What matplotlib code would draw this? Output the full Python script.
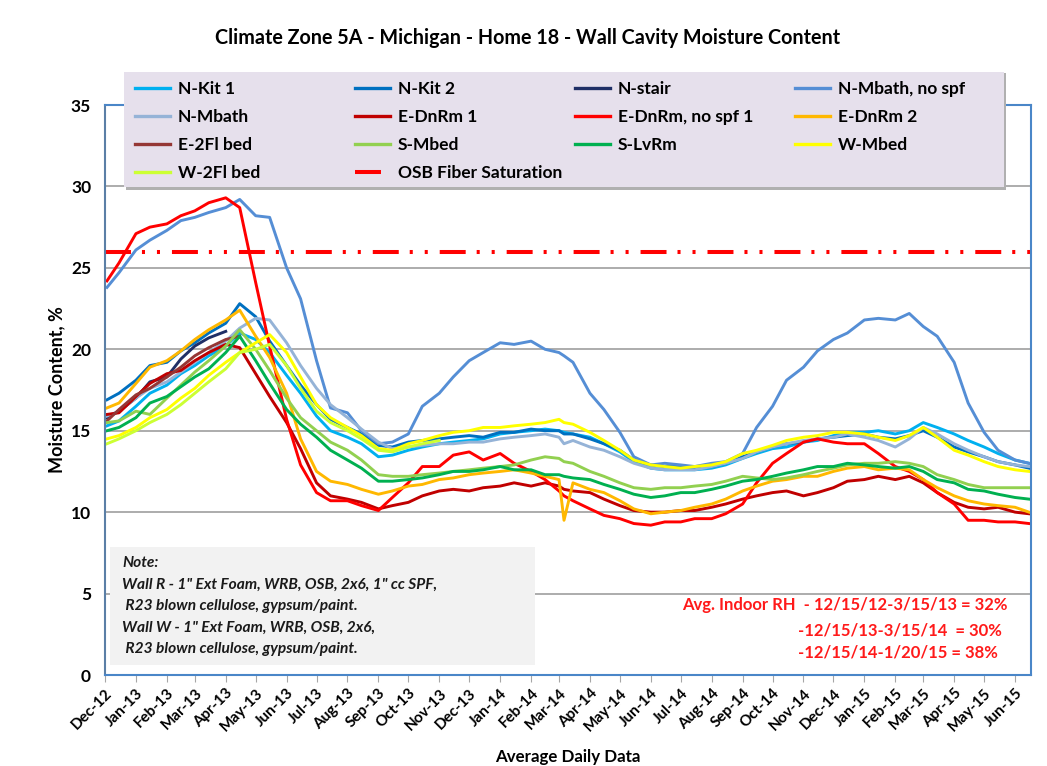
import numpy as np
import pandas as pd
import matplotlib
matplotlib.use("Agg")
import matplotlib.pyplot as plt
import matplotlib.dates as mdates
from matplotlib.patches import Rectangle
from matplotlib.lines import Line2D

plt.rcParams['font.family'] = ['Lato', 'DejaVu Sans']
plt.rcParams['font.weight'] = 'bold'
plt.rcParams['lines.scale_dashes'] = False

# DATA ###############################################################
DATES = pd.to_datetime([
    "2012-12-03", "2012-12-15",
    "2013-01-01", "2013-01-15", "2013-02-01", "2013-02-15", "2013-03-01", "2013-03-15",
    "2013-04-01", "2013-04-15", "2013-05-01", "2013-05-15", "2013-06-01", "2013-06-15",
    "2013-07-01", "2013-07-15", "2013-08-01", "2013-08-15", "2013-09-01", "2013-09-15",
    "2013-10-01", "2013-10-15", "2013-11-01", "2013-11-15", "2013-12-01", "2013-12-15",
    "2014-01-01", "2014-01-15", "2014-02-01", "2014-02-15", "2014-03-01", "2014-03-06",
    "2014-03-15", "2014-04-01", "2014-04-15", "2014-05-01", "2014-05-15", "2014-06-01",
    "2014-06-15", "2014-07-01", "2014-07-15", "2014-08-01", "2014-08-15", "2014-09-01",
    "2014-09-15", "2014-10-01", "2014-10-15", "2014-11-01", "2014-11-15", "2014-12-01",
    "2014-12-15", "2015-01-01", "2015-01-15", "2015-02-01", "2015-02-15", "2015-03-01",
    "2015-03-15", "2015-04-01", "2015-04-15", "2015-05-01", "2015-05-15", "2015-06-01",
    "2015-06-15"])

N_KIT_1 = [15.3, 15.6, 16.5, 17.3, 17.8, 18.5, 19.0, 19.6, 20.2, 21.0, 20.6, 19.8,
           18.4, 17.3, 15.9, 15.0, 14.6, 14.2, 13.4, 13.5, 13.8, 14.0, 14.2, 14.3,
           14.4, 14.5, 14.8, 14.9, 15.0, 15.1, 15.0, 14.9, 14.8, 14.6, 14.2, 13.7, 13.1,
           12.7, 12.6, 12.6, 12.6, 12.7, 12.9, 13.3, 13.6, 13.9, 14.0, 14.3, 14.4,
           14.7, 14.9, 14.9, 15.0, 14.8, 15.0, 15.5, 15.2, 14.8, 14.4, 14.0, 13.6, 13.2, 13.0]
N_KIT_2 = [16.9, 17.3, 18.1, 19.0, 19.2, 19.9, 20.4, 21.0, 21.6, 22.8, 22.0, 20.5,
           19.0, 17.8, 16.6, 15.7, 15.2, 14.8, 14.1, 14.0, 14.3, 14.4, 14.5, 14.6,
           14.7, 14.6, 14.9, 14.9, 15.1, 15.0, 15.0, 14.8, 14.8, 14.5, 14.2, 13.8, 13.2,
           12.9, 12.8, 12.8, 12.7, 12.8, 13.0, 13.4, 13.7, 14.0, 14.2, 14.3, 14.5,
           14.6, 14.7, 14.8, 14.6, 14.5, 14.7, 15.0, 14.6, 14.0, 13.7, 13.4, 13.1, 12.9, 12.7]
N_STAIR = [15.8, 16.2, 17.0, 18.0, 18.3, 19.4, 20.2, 20.7, 21.1]
N_MBATH_NO_SPF = [23.8, 24.7, 26.1, 26.7, 27.3, 27.9, 28.1, 28.4, 28.7, 29.2, 28.2, 28.1,
                  25.0, 23.1, 19.3, 16.4, 16.1, 15.0, 14.2, 14.3, 14.8, 16.5, 17.3, 18.3,
                  19.3, 19.8, 20.4, 20.3, 20.5, 20.0, 19.8, 19.6, 19.2, 17.3, 16.3, 14.9, 13.4,
                  12.9, 13.0, 12.9, 12.8, 13.0, 13.1, 13.6, 15.2, 16.5, 18.1, 18.9, 19.9,
                  20.6, 21.0, 21.8, 21.9, 21.8, 22.2, 21.4, 20.8, 19.2, 16.7, 14.9, 13.8, 13.2, 13.0]
N_MBATH = [15.9, 16.2, 17.0, 17.6, 18.0, 18.6, 19.2, 19.8, 20.5, 21.3, 21.9, 21.8,
           20.4, 19.0, 17.6, 16.6, 15.8, 15.1, 14.3, 13.9, 14.0, 14.1, 14.2, 14.2,
           14.3, 14.3, 14.5, 14.6, 14.7, 14.8, 14.6, 14.2, 14.4, 14.0, 13.8, 13.4, 13.0,
           12.7, 12.6, 12.6, 12.6, 12.8, 13.0, 13.3, 13.7, 14.0, 14.2, 14.4, 14.5,
           14.6, 14.8, 14.6, 14.4, 14.0, 14.5, 15.2, 14.8, 14.2, 13.8, 13.4, 13.1, 12.9, 12.8]
E_DNRM_1 = [16.0, 16.1, 17.1, 17.9, 18.5, 18.7, 19.3, 19.8, 20.3, 20.1, 18.5, 17.1,
            15.5, 13.9, 11.8, 11.0, 10.8, 10.6, 10.2, 10.4, 10.6, 11.0, 11.3, 11.4,
            11.3, 11.5, 11.6, 11.8, 11.6, 11.8, 11.6, 11.4, 11.3, 11.2, 10.8, 10.4, 10.1,
            10.0, 10.0, 10.1, 10.1, 10.3, 10.5, 10.8, 11.0, 11.2, 11.3, 11.0, 11.2,
            11.5, 11.9, 12.0, 12.2, 12.0, 12.2, 11.8, 11.2, 10.6, 10.3, 10.2, 10.3, 10.0, 9.9]
E_DNRM_NO_SPF_1 = [24.2, 25.3, 27.1, 27.5, 27.7, 28.2, 28.5, 29.0, 29.3, 28.7, 24.1, 20.2,
                   15.7, 12.9, 11.2, 10.7, 10.7, 10.4, 10.1, 10.9, 11.8, 12.8, 12.8, 13.5,
                   13.7, 13.2, 13.6, 13.0, 12.5, 12.0, 11.3, 11.0, 10.7, 10.2, 9.8, 9.6, 9.3,
                   9.2, 9.4, 9.4, 9.6, 9.6, 9.9, 10.5, 11.8, 13.0, 13.6, 14.3, 14.5,
                   14.3, 14.2, 14.2, 13.6, 12.8, 12.5, 12.0, 11.2, 10.5, 9.5, 9.5, 9.4, 9.4, 9.3]
E_DNRM_2 = [16.4, 16.7, 17.9, 18.9, 19.3, 19.9, 20.6, 21.2, 21.8, 22.4, 20.8, 19.5,
            17.3, 14.5, 12.5, 11.9, 11.7, 11.4, 11.1, 11.3, 11.6, 11.7, 12.0, 12.1,
            12.3, 12.4, 12.5, 12.6, 12.4, 12.2, 12.0, 9.5, 11.8, 11.4, 11.2, 10.7, 10.2,
            9.9, 10.0, 10.1, 10.3, 10.5, 10.8, 11.3, 11.6, 11.9, 12.0, 12.2, 12.2,
            12.5, 12.7, 12.8, 12.6, 12.7, 12.6, 12.0, 11.5, 11.0, 10.7, 10.5, 10.4, 10.3, 10.0]
E_2FL_BED = [15.6, 16.3, 17.2, 17.6, 18.3, 18.9, 19.6, 20.1, 20.6, 20.8]
S_MBED = [15.5, 15.6, 16.2, 16.0, 17.0, 17.8, 18.6, 19.3, 20.2, 21.2, 20.0, 18.7,
          17.0, 15.8, 15.0, 14.3, 13.8, 13.2, 12.3, 12.2, 12.2, 12.3, 12.4, 12.5,
          12.6, 12.7, 12.8, 12.9, 13.2, 13.4, 13.3, 13.1, 13.0, 12.5, 12.2, 11.8, 11.5,
          11.4, 11.5, 11.5, 11.6, 11.7, 11.9, 12.2, 12.1, 12.0, 12.1, 12.3, 12.5,
          12.7, 12.9, 13.0, 13.0, 13.1, 13.0, 12.8, 12.3, 12.0, 11.7, 11.5, 11.5, 11.5, 11.5]
S_LVRM = [15.0, 15.2, 15.8, 16.7, 17.1, 17.7, 18.3, 18.8, 19.8, 20.8, 19.3, 17.9,
          16.3, 15.4, 14.6, 13.8, 13.2, 12.7, 11.9, 11.9, 12.0, 12.1, 12.3, 12.5,
          12.5, 12.6, 12.8, 12.6, 12.6, 12.3, 12.3, 12.2, 12.1, 12.0, 11.7, 11.4, 11.1,
          10.9, 11.0, 11.2, 11.2, 11.4, 11.6, 11.9, 12.0, 12.2, 12.4, 12.6, 12.8,
          12.8, 13.0, 12.9, 12.8, 12.7, 12.8, 12.5, 12.0, 11.8, 11.4, 11.3, 11.1, 10.9, 10.8]
W_MBED = [14.5, 14.7, 15.2, 15.8, 16.3, 17.0, 17.6, 18.4, 19.2, 19.8, 20.4, 20.9,
          19.8, 18.3, 16.6, 15.8, 15.2, 14.7, 13.9, 13.8, 14.2, 14.4, 14.7, 14.9,
          15.0, 15.2, 15.2, 15.3, 15.4, 15.5, 15.7, 15.5, 15.4, 14.9, 14.4, 13.8, 13.2,
          12.9, 12.8, 12.7, 12.8, 12.9, 13.1, 13.6, 13.8, 14.1, 14.4, 14.6, 14.7,
          14.9, 14.9, 14.8, 14.6, 14.4, 14.7, 15.2, 14.6, 13.8, 13.5, 13.1, 12.8, 12.6, 12.5]
W_2FL_BED = [14.2, 14.5, 15.0, 15.5, 16.0, 16.6, 17.3, 18.0, 18.8, 19.8, 20.0, 20.3,
             19.0, 17.6, 16.2, 15.5, 15.0, 14.5, 13.8, 13.7, 14.0, 14.2, 14.4]
OSB_SAT = 26.0

TITLE = "Climate Zone 5A - Michigan - Home 18 - Wall Cavity Moisture Content"
NOTE_LINES = ["Note:",
              'Wall R - 1" Ext Foam, WRB, OSB, 2x6, 1" cc SPF,',
              " R23 blown cellulose, gypsum/paint.",
              'Wall W - 1" Ext Foam, WRB, OSB, 2x6,',
              " R23 blown cellulose, gypsum/paint."]
RH_LINES = ["Avg. Indoor RH  - 12/15/12-3/15/13 = 32%",
            "-12/15/13-3/15/14  = 30%",
            "-12/15/14-1/20/15 = 38%"]

# label, values, colour (in drawing order)
SERIES = [
    ("N-Kit 1", N_KIT_1, "#00b0f0"),
    ("N-Kit 2", N_KIT_2, "#0070c0"),
    ("N-stair", N_STAIR, "#1f2f66"),
    ("N-Mbath, no spf", N_MBATH_NO_SPF, "#558ed5"),
    ("N-Mbath", N_MBATH, "#95b3d7"),
    ("E-DnRm 1", E_DNRM_1, "#c00000"),
    ("E-DnRm, no spf 1", E_DNRM_NO_SPF_1, "#ff0000"),
    ("E-DnRm 2", E_DNRM_2, "#ffb800"),
    ("E-2Fl bed", E_2FL_BED, "#953735"),
    ("S-Mbed", S_MBED, "#92d050"),
    ("S-LvRm", S_LVRM, "#00b050"),
    ("W-Mbed", W_MBED, "#ffff00"),
    ("W-2Fl bed", W_2FL_BED, "#ccff33"),
]
OSB_DASH = (18.7, 7.9, 2.2, 8.6, 2.2, 8.6)

# FIGURE #############################################################
W, H = 1047, 766
fig = plt.figure(figsize=(W / 100, H / 100), dpi=100)
fig.patch.set_facecolor("white")


def fx(px):
    return px / W


def fy(py):
    return 1 - py / H


ax = fig.add_axes([fx(105), fy(675), fx(1031) - fx(105), fy(105) - fy(675)])

for label, vals, color in SERIES:
    ax.plot(DATES[:len(vals)], vals, color=color, lw=2.1, label=label)

ax.axhline(OSB_SAT, color="#ff0000", lw=2.9, dashes=OSB_DASH,
           dash_capstyle="butt", label="OSB Fiber Saturation")

ax.set_ylim(0, 35)
ax.set_yticks(np.arange(0, 36, 5))
ax.set_xlim(pd.Timestamp("2012-12-01"), pd.Timestamp("2015-06-17"))
ax.xaxis.set_major_locator(mdates.MonthLocator())
ax.xaxis.set_major_formatter(mdates.DateFormatter("%b-%y"))
ax.yaxis.grid(True, color="#a6a6a6", lw=1.3)
ax.set_axisbelow(True)
for s in ax.spines.values():
    s.set_color("#4a86c8")
    s.set_linewidth(1.5)
ax.spines["left"].set_color("#5b7fa6")
ax.tick_params(axis="y", length=0, pad=10, labelsize=12.5)
ax.tick_params(axis="x", length=5, color="#a6a6a6", direction="out", pad=3, labelsize=11)
for lab in ax.get_xticklabels():
    lab.set_rotation(45)
    lab.set_ha("right")
    lab.set_rotation_mode("anchor")
for lab in ax.get_yticklabels() + ax.get_xticklabels():
    lab.set_fontweight("bold")

fig.text(fx(528), fy(38), TITLE, ha="center", va="center", fontsize=14.2, weight="bold")
fig.text(fx(57), fy(390), "Moisture Content, %", rotation=90, ha="center", va="center",
         fontsize=13, weight="bold")
fig.text(fx(568), fy(757), "Average Daily Data", ha="center", va="center",
         fontsize=12.2, weight="bold")

# legend background with shadow
fig.patches.append(Rectangle((fx(126), fy(190)), fx(1006) - fx(126), fy(73) - fy(190),
                             transform=fig.transFigure, facecolor="#b0b0b0",
                             edgecolor="none", zorder=1))
fig.patches.append(Rectangle((fx(124), fy(187)), fx(1004) - fx(124), fy(72) - fy(187),
                             transform=fig.transFigure, facecolor="#e6e0ec",
                             edgecolor="none", zorder=1.1))

handles, labels = ax.get_legend_handles_labels()
col_x = [135, 355, 575, 795]
for c in range(4):
    idx = list(range(c, len(handles), 4))
    hs = [Line2D([], [], color=handles[i].get_color(), lw=2.4) for i in idx]
    for j, i in enumerate(idx):
        if labels[i] == "OSB Fiber Saturation":
            hs[j] = Line2D([], [], color="#ff0000", lw=2.9, dashes=OSB_DASH,
                           dash_capstyle="butt")
    fig.legend(hs, [labels[i] for i in idx], loc="upper left",
               bbox_to_anchor=(fx(col_x[c]), fy(81)), frameon=False,
               borderpad=0, borderaxespad=0, handlelength=2.0, handletextpad=0.46,
               labelspacing=0.7, prop={"size": 12.5, "weight": "bold"})

# note box
fig.patches.append(Rectangle((fx(110), fy(665)), fx(535) - fx(110), fy(547) - fy(665),
                             transform=fig.transFigure, facecolor="#f2f2f2",
                             edgecolor="none", zorder=1))
for k, line in enumerate(NOTE_LINES):
    fig.text(fx(122), fy(563 + k * 21.5), line, ha="left", va="center",
             fontsize=11.2, weight="bold", style="italic", color="#1a1a1a")

# indoor RH annotation
fig.text(fx(682), fy(605), RH_LINES[0], ha="left", va="center", fontsize=12,
         weight="bold", color="#ff1a1a")
fig.text(fx(798), fy(630), RH_LINES[1], ha="left", va="center", fontsize=12,
         weight="bold", color="#ff1a1a")
fig.text(fx(798), fy(653), RH_LINES[2], ha="left", va="center", fontsize=12,
         weight="bold", color="#ff1a1a")

plt.savefig("out.png", dpi=100)
